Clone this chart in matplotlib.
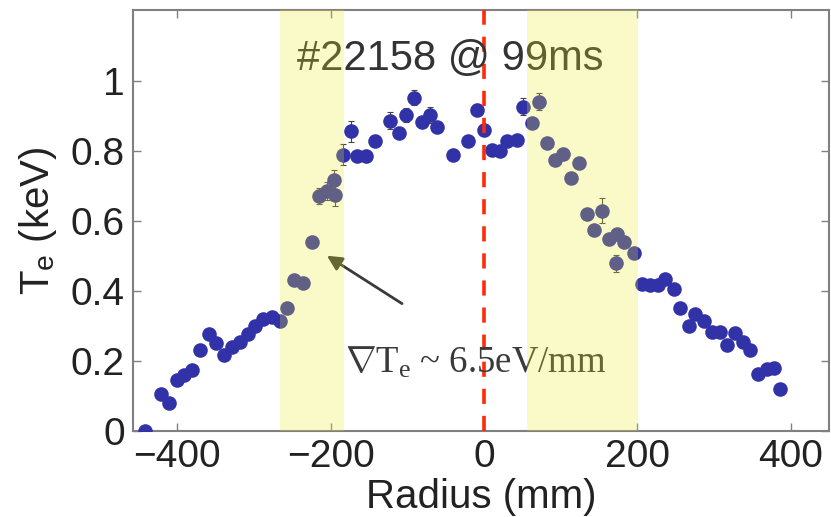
import numpy as np
import matplotlib
matplotlib.use('Agg')
import matplotlib.pyplot as plt

# Te profile, shot #22158 @ 99ms
radius = [-442.6, -420.8, -410.8, -400.5, -391.0, -381.4, -370.0, -359.4, -349.9, -338.6,
          -328.6, -318.2, -307.7, -299.0, -288.1, -277.2, -266.3, -257.6, -247.6, -235.9,
          -225.0, -215.4, -205.4, -195.4, -194.5, -183.7, -174.0, -165.4, -154.0, -142.3,
          -122.7, -111.0, -102.3, -91.0, -81.3, -70.5, -61.0, -40.9, -20.5, -9.5,
          0.0, 10.0, 20.9, 30.4, 42.7, 50.5, 62.3, 72.2, 81.9, 92.7,
          103.5, 113.6, 124.0, 134.0, 144.0, 153.6, 163.6, 172.3, 174.0, 182.8,
          195.0, 205.9, 216.7, 226.3, 236.3, 247.2, 255.0, 266.8, 275.5, 286.3,
          297.3, 307.2, 316.8, 327.7, 337.7, 347.3, 357.3, 369.0, 378.6, 386.4]
te = [0.0, 0.106, 0.081, 0.146, 0.161, 0.173, 0.232, 0.278, 0.252, 0.216,
      0.240, 0.254, 0.278, 0.299, 0.320, 0.325, 0.314, 0.352, 0.432, 0.422,
      0.541, 0.671, 0.685, 0.718, 0.675, 0.790, 0.857, 0.787, 0.787, 0.830,
      0.887, 0.852, 0.904, 0.952, 0.882, 0.904, 0.868, 0.790, 0.830, 0.918,
      0.861, 0.804, 0.799, 0.830, 0.832, 0.927, 0.879, 0.941, 0.822, 0.773,
      0.792, 0.722, 0.766, 0.619, 0.573, 0.630, 0.549, 0.479, 0.563, 0.541,
      0.509, 0.421, 0.416, 0.416, 0.433, 0.406, 0.351, 0.301, 0.335, 0.314,
      0.282, 0.284, 0.246, 0.279, 0.254, 0.232, 0.163, 0.178, 0.181, 0.121]
te_err = [0.012, 0.012, 0.012, 0.012, 0.012, 0.012, 0.012, 0.012, 0.012, 0.012,
          0.012, 0.012, 0.012, 0.012, 0.012, 0.012, 0.012, 0.012, 0.012, 0.012,
          0.012, 0.022, 0.026, 0.027, 0.033, 0.029, 0.030, 0.012, 0.012, 0.012,
          0.024, 0.012, 0.020, 0.021, 0.012, 0.023, 0.012, 0.012, 0.012, 0.015,
          0.012, 0.012, 0.012, 0.012, 0.012, 0.024, 0.012, 0.024, 0.012, 0.012,
          0.012, 0.012, 0.012, 0.012, 0.012, 0.035, 0.012, 0.024, 0.012, 0.012,
          0.012, 0.012, 0.012, 0.012, 0.012, 0.012, 0.012, 0.012, 0.012, 0.012,
          0.012, 0.012, 0.012, 0.012, 0.012, 0.012, 0.012, 0.012, 0.012, 0.012]

# steep-gradient regions (mm)
bands = [(-266, -183), (56, 201)]

xticks = [-400, -200, 0, 200, 400]
yticks = [0, 0.2, 0.4, 0.6, 0.8, 1]
yticklabels = ['0', '0.2', '0.4', '0.6', '0.8', '1']

plt.rcParams['font.family'] = ['Liberation Sans', 'DejaVu Sans']
plt.rcParams['mathtext.fontset'] = 'custom'
plt.rcParams['mathtext.rm'] = 'Liberation Serif'
plt.rcParams['mathtext.it'] = 'Liberation Serif:italic'
plt.rcParams['mathtext.sf'] = 'Liberation Sans'

fig = plt.figure(figsize=(8.31, 5.17), dpi=100)
ax = fig.add_axes([0.160, 0.1663, 0.8376, 0.8144])

gray = '#808080'
text_col = '#333333'

ax.errorbar(radius, te, yerr=te_err, fmt='none', ecolor='#444444',
            elinewidth=0.8, capsize=2, capthick=0.8, zorder=2)
ax.plot(radius, te, 'o', color='#3232a8', markersize=10.5, markeredgewidth=0, zorder=3)

# magnetic axis
ax.axvline(0, color='#ff2a0a', linewidth=2.6, dashes=(4.2, 3.3), zorder=4)

ax.text(-44, 1.064, '#22158 @ 99ms', ha='center', va='center', fontsize=30,
        color=text_col, zorder=5)

ax.annotate('', xy=(-205, 0.501), xytext=(-107, 0.364),
            arrowprops=dict(arrowstyle='-|>', color='#3a3a3a', lw=2.0,
                            mutation_scale=22, shrinkA=0, shrinkB=0), zorder=5)
ax.text(-181.5, 0.167, '$\\nabla$T$_\\mathrm{e}$ ~ 6.5eV/mm', ha='left', va='baseline',
        fontsize=26.5, color='#3a3a3a', family='Liberation Serif', zorder=5)

# yellow shading drawn on top, semi-transparent
for lo, hi in bands:
    ax.axvspan(lo, hi, color='#ecec24', alpha=0.25, linewidth=0, zorder=10)

ax.set_xlim(-458, 450)
ax.set_ylim(0, 1.203)
ax.set_xticks(xticks)
ax.set_yticks(yticks)
ax.set_yticklabels(yticklabels)
ax.tick_params(direction='in', length=6, width=1, color=gray, labelsize=28,
               top=True, right=True, pad=6, labelcolor='#222222')
for sp in ax.spines.values():
    sp.set_color(gray)
    sp.set_linewidth(1.5)

ax.set_xlabel('Radius (mm)', fontsize=29, color='#222222', labelpad=2)
ax.set_ylabel('T$_\\mathsf{e}$ (keV)', fontsize=29, color='#222222', labelpad=8)

fig.savefig('out.png', dpi=100)
